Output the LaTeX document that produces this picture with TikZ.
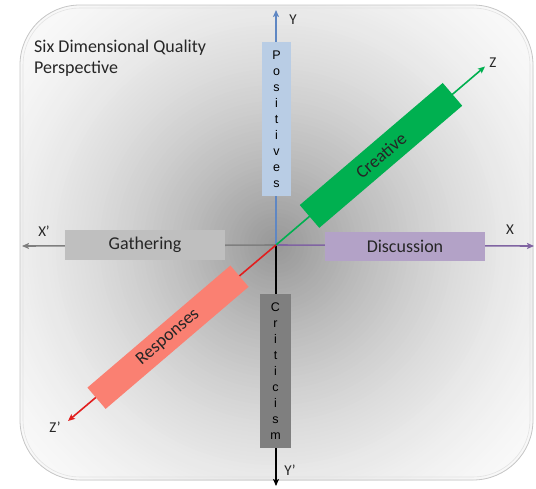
\documentclass[tikz,border=0pt]{standalone}
\usepackage{fontspec}
\setmainfont{Carlito}
\newfontfamily\arialf{Liberation Sans}
\usetikzlibrary{arrows.meta}
\definecolor{yblue}{RGB}{95,135,195}
\definecolor{posfill}{RGB}{185,205,229}
\definecolor{critfill}{RGB}{127,127,127}
\definecolor{xpurple}{RGB}{128,100,162}
\definecolor{discfill}{RGB}{179,162,199}
\definecolor{xgray}{RGB}{127,127,127}
\definecolor{gathfill}{RGB}{191,191,191}
\definecolor{zgreen}{RGB}{0,176,80}
\definecolor{zred}{RGB}{225,30,30}
\definecolor{respfill}{RGB}{250,128,114}
\definecolor{txt}{RGB}{38,38,38}
\tikzset{
  axisline/.style={line width=1.6pt,-{Stealth[length=7pt,width=6pt,inset=1.5pt]}},
  hbox/.style={minimum width=160pt,minimum height=30pt,inner sep=0pt,text=txt,font=\fontsize{18}{20}\selectfont},
  vbox/.style={minimum width=30pt,minimum height=154pt,inner sep=0pt,align=center,text=black,font=\arialf\fontsize{12.5}{16}\selectfont},
  dbox/.style={minimum width=188pt,minimum height=30pt,inner sep=0pt,rotate=40.5,text=txt,font=\fontsize{18}{20}\selectfont},
  axlabel/.style={inner sep=0pt,text=txt,font=\fontsize{15}{17}\selectfont}
}
\begin{document}
\begin{tikzpicture}[x=1pt,y=-1pt]
\useasboundingbox (0,0) rectangle (536,488);
\begin{scope}
\clip[rounded corners=60pt] (20,5) rectangle (533,480);
\foreach \r in {348,344,...,2} {
  \pgfmathsetmacro\lv{(150+100*(1-(1-\r/350)^1.6))/255}
  \definecolor{bgc}{gray}{\lv}
  \fill[bgc] (276,245) circle[radius=\r pt];
}
\end{scope}
\draw[gray!45,line width=0.8pt,rounded corners=60pt] (20,5) rectangle (533,480);
\draw[gray!22,line width=0.6pt,rounded corners=57pt] (23,8) rectangle (530,477);
% title
\node[anchor=north west,align=left,inner sep=0pt,text=txt,font=\fontsize{18}{21}\selectfont] (title) at (34,40) {Six Dimensional Quality\\Perspective};
% axes
\coordinate (O) at (276,245);
\coordinate (YT) at (276,10);
\coordinate (YB) at (276,486);
\coordinate (XR) at (534,246);
\coordinate (XL) at (22,246);
\coordinate (ZT) at (485,66.5);
\coordinate (ZB) at (68,421);
\draw[axisline,yblue] (O) -- (YT);
\draw[axisline,black] (O) -- (YB);
\draw[axisline,xpurple] (O) -- (XR);
\draw[axisline,xgray] (O) -- (XL);
\draw[axisline,zgreen] (O) -- (ZT);
\draw[axisline,zred] (O) -- (ZB);
% boxes
\node[vbox,fill=posfill,minimum width=29pt] (pos) at (276.5,119) {P\\o\\s\\i\\t\\i\\v\\e\\s};
\node[vbox,fill=critfill,minimum width=31pt] (crit) at (275.5,371) {C\\r\\i\\t\\i\\c\\i\\s\\m};
\node[hbox,fill=discfill,minimum height=29pt] (disc) at (405,246) {Discussion};
\node[hbox,fill=gathfill] (gath) at (145,245) {Gathering};
\node[dbox,fill=zgreen] (crea) at (381,155.4) {Creative};
\node[dbox,fill=respfill,minimum height=28pt] (resp) at (168,337.2) {Responses};
% axis labels
\node[axlabel] (ly) at (293,20) {Y};
\node[axlabel] (lyb) at (290,470) {Y’};
\node[axlabel] (lx) at (510,230) {X};
\node[axlabel] (lxb) at (44,231) {X’};
\node[axlabel] (lz) at (493,63) {Z};
\node[axlabel] (lzb) at (55,427) {Z’};
\end{tikzpicture}
\end{document}
